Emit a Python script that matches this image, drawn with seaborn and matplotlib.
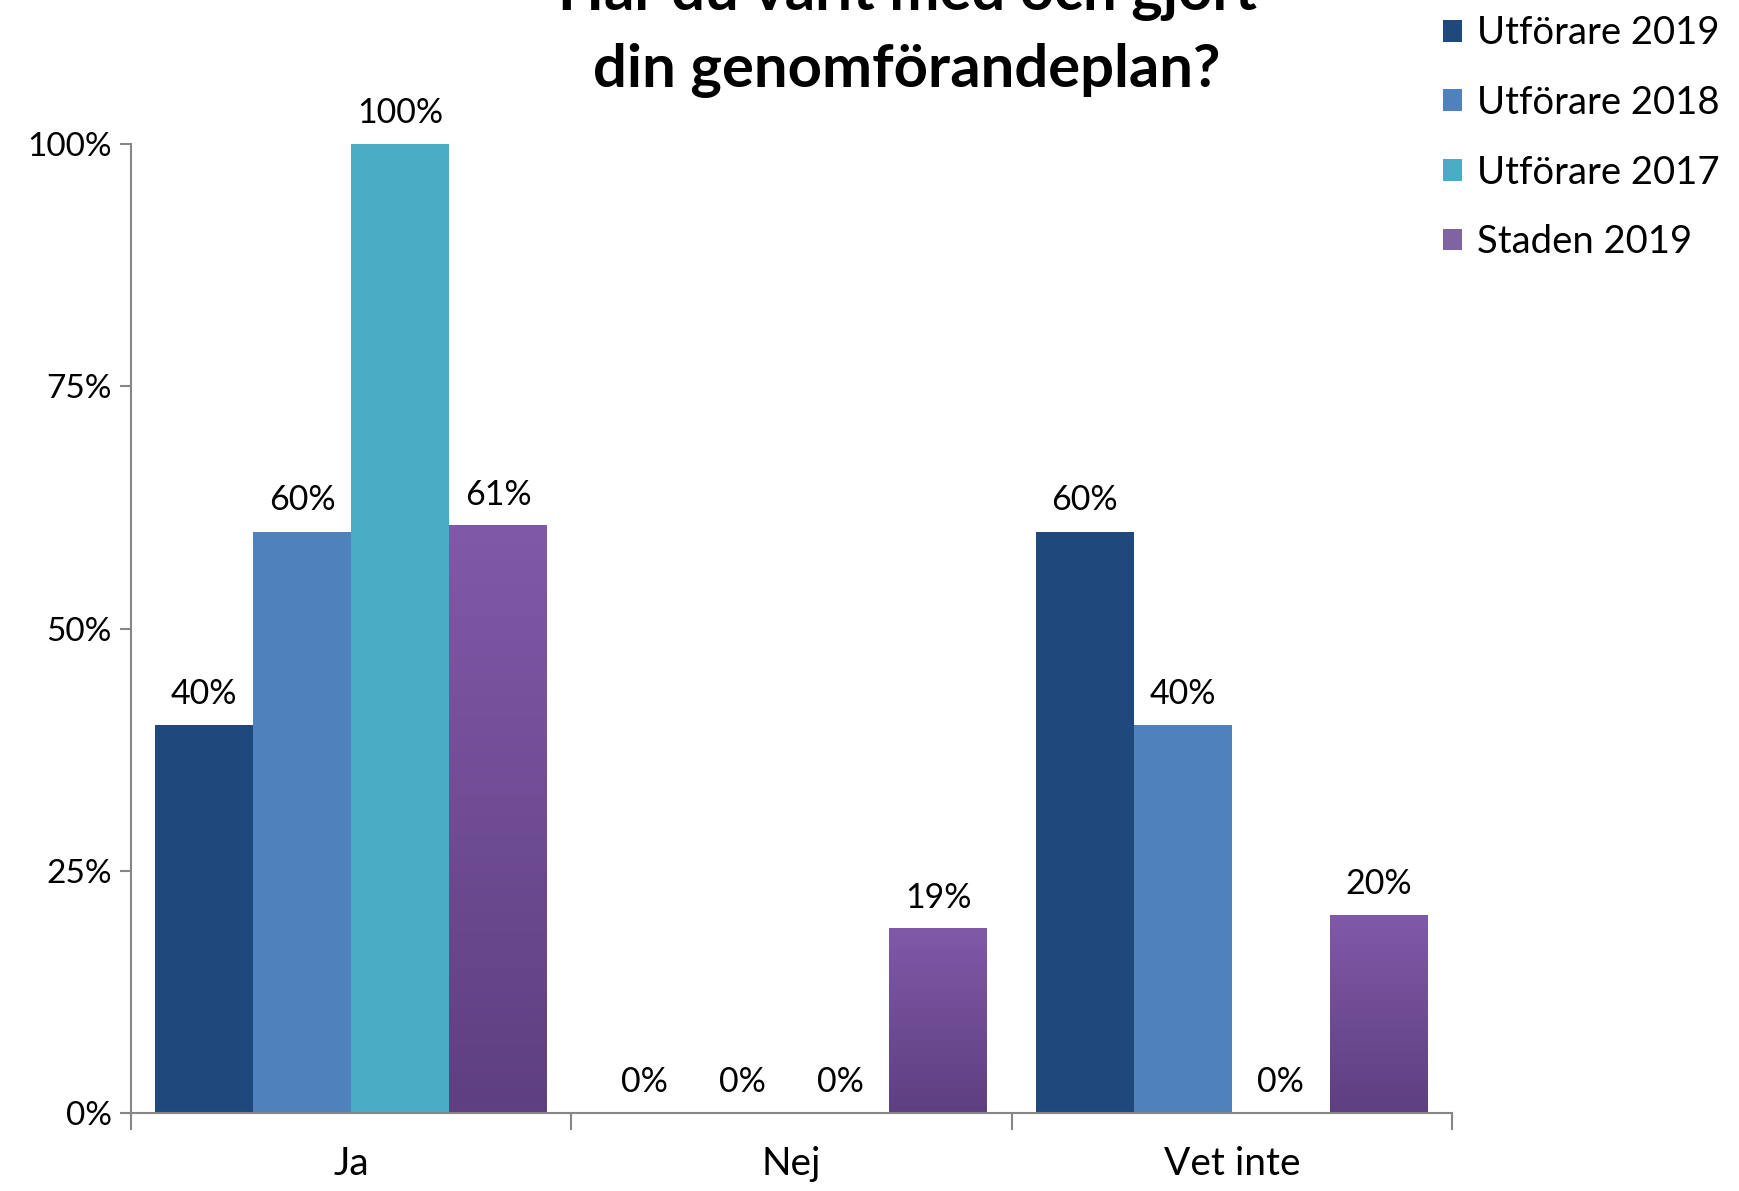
import matplotlib
matplotlib.use('Agg')
import matplotlib.pyplot as plt
import seaborn as sns
import pandas as pd
import numpy as np
from matplotlib.ticker import PercentFormatter, FixedLocator
from matplotlib.colors import LinearSegmentedColormap

# Data
kategorier = ['Ja', 'Nej', 'Vet inte']
serier = ['Utförare 2019', 'Utförare 2018', 'Utförare 2017', 'Staden 2019']
utforare_2019 = [0.40, 0.00, 0.60]
utforare_2018 = [0.60, 0.00, 0.40]
utforare_2017 = [1.00, 0.00, 0.00]
staden_2019 = [0.606, 0.19, 0.204]
etiketter = {
    'Utförare 2019': ['40%', '0%', '60%'],
    'Utförare 2018': ['60%', '0%', '40%'],
    'Utförare 2017': ['100%', '0%', '0%'],
    'Staden 2019': ['61%', '19%', '20%'],
}
farger = ['#1F497D', '#4F81BD', '#4BACC6', '#8064A2']

df = pd.DataFrame({
    'Svar': kategorier * 4,
    'Serie': np.repeat(serier, 3),
    'Andel': utforare_2019 + utforare_2018 + utforare_2017 + staden_2019,
})

sns.set_style("white")
plt.rcParams['font.family'] = ['Lato', 'DejaVu Sans']
plt.rcParams['text.color'] = 'black'
plt.rcParams['xtick.labelcolor'] = 'black'
plt.rcParams['ytick.labelcolor'] = 'black'

fig = plt.figure(figsize=(17.39, 11.91), dpi=100)
ax = fig.add_axes([0.0753, 0.0655, 0.7597, 0.8135])

sns.barplot(data=df, x='Svar', y='Andel', hue='Serie', order=kategorier,
            hue_order=serier, palette=farger, width=0.89, linewidth=0,
            saturation=1, ax=ax, legend=True)

# Gradient for Staden 2019
grad = LinearSegmentedColormap.from_list('lila', ['#5E3F80', '#8059A8'])
for bar in ax.containers[3]:
    x0, y0 = bar.get_x(), bar.get_y()
    w, h = bar.get_width(), bar.get_height()
    bar.set_facecolor('none')
    if h > 0:
        ax.imshow(np.linspace(0, 1, 256).reshape(-1, 1), cmap=grad,
                  origin='lower', extent=(x0, x0 + w, y0, y0 + h),
                  aspect='auto', zorder=bar.get_zorder(), interpolation='bilinear')

for cont, s in zip(ax.containers, serier):
    ax.bar_label(cont, labels=etiketter[s], padding=11, fontsize=24.5,
                 color='black', clip_on=False)

ax.set_xlim(-0.5, 2.5)
ax.set_ylim(0, 1)
ax.yaxis.set_major_locator(FixedLocator([0, 0.25, 0.5, 0.75, 1.0]))
ax.yaxis.set_major_formatter(PercentFormatter(1.0, decimals=0))
ax.set_xticks([-0.5, 0.5, 1.5, 2.5])
ax.set_xticklabels([])
ax.set_xticks([0, 1, 2], minor=True)
ax.set_xticklabels(kategorier, minor=True, fontsize=28)
ax.tick_params(axis='x', which='major', length=12, width=1.5, color='#868686', direction='out', bottom=True)
ax.tick_params(axis='x', which='minor', length=0, pad=24, labelcolor='black')
ax.tick_params(axis='y', length=8, width=1.5, color='#868686', direction='out', left=True,
               labelsize=24, pad=6, labelcolor='black')
for sp in ['top', 'right']:
    ax.spines[sp].set_visible(False)
for sp in ['left', 'bottom']:
    ax.spines[sp].set_color('#868686')
    ax.spines[sp].set_linewidth(1.5)
ax.set_xlabel('')
ax.set_ylabel('')

fig.text(0.5216, 0.918, 'Har du varit med och gjort\ndin genomförandeplan?',
         ha='center', va='bottom', fontsize=43, fontweight='bold', linespacing=1.5,
         color='black')

handles, labels = ax.get_legend_handles_labels()
leg = ax.legend(handles, labels, loc='upper left', bbox_to_anchor=(0.81, 1.016),
                bbox_transform=fig.transFigure, frameon=False, fontsize=27.5,
                handlelength=0.5, handleheight=0.5, handletextpad=0.4, labelspacing=0.88)
for t in leg.get_texts():
    t.set_color('black')

fig.savefig('out.png', dpi=100)
